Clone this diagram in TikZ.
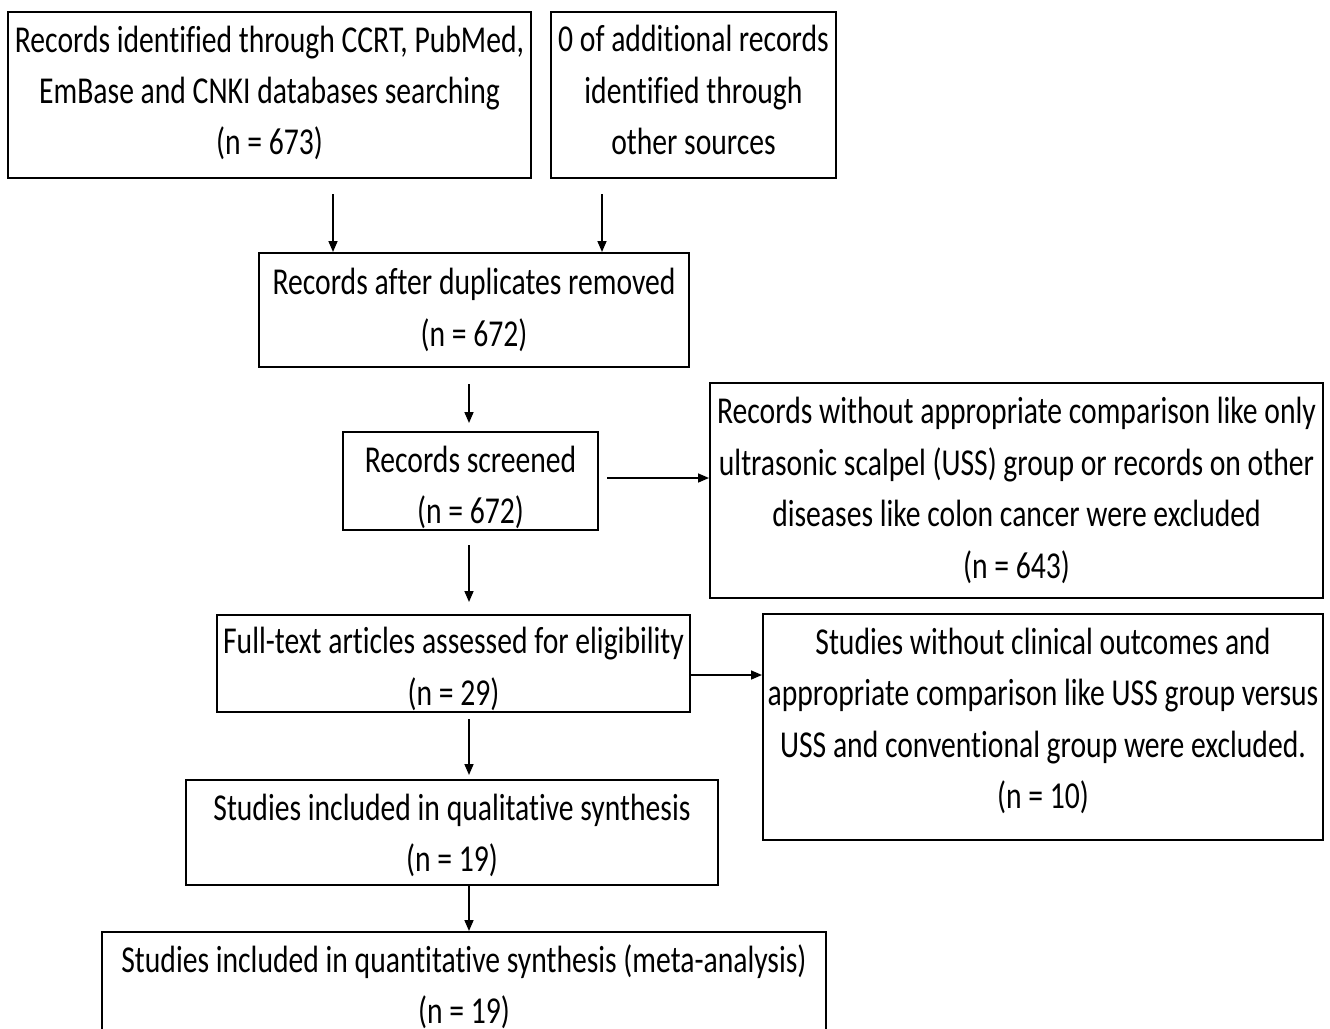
\documentclass[tikz,border=0pt]{standalone}
\usepackage{fontspec}
\setmainfont{Carlito}[Ligatures=NoCommon]
\usetikzlibrary{arrows.meta}
\newcommand{\sq}[1]{\scalebox{0.78}[1]{#1}}
\tikzset{
  box/.style={draw,line width=1pt,inner sep=0pt},
  txt/.style={inner sep=0pt,align=center,font=\fontsize{19}{25.7}\selectfont},
  sz/.style 2 args={minimum width=#1*0.5pt,minimum height=#2*0.5pt},
  arr/.style={line width=0.8pt,-{Triangle[length=5.5pt,width=4.5pt]}}
}
\begin{document}
\begin{tikzpicture}[x=0.5pt,y=-0.5pt]
\useasboundingbox (0,0) rectangle (1330,1029);
\clip (0,0) rectangle (1330,1029);
\node[box,sz={523}{166}] (A) at (269.5,95) {};
\node[txt] (At) at (269.5,93) {\sq{Records identified through CCRT, PubMed,}\\\sq{EmBase and CNKI databases searching}\\\sq{(n = 673)}};
\node[box,sz={285}{166}] (B) at (693.5,95) {};
\node[txt] (Bt) at (693.5,90) {\sq{0 of additional records}\\\sq{identified through}\\\sq{other sources}};
\node[box,sz={430}{114}] (C) at (474,310) {};
\node[txt] (Ct) at (474,310) {\sq{Records after duplicates removed}\\\sq{(n = 672)}};
\node[box,sz={255}{98}] (D) at (470.5,481) {};
\node[txt] (Dt) at (470.5,487.5) {\sq{Records screened}\\\sq{(n = 672)}};
\node[box,sz={613}{215}] (E) at (1016.5,490.5) {};
\node[txt] (Et) at (1016.5,490.5) {\sq{Records without appropriate comparison like only}\\\sq{ultrasonic scalpel (USS) group or records on other}\\\sq{diseases like colon cancer were excluded}\\\sq{(n = 643)}};
\node[box,sz={473}{97}] (F) at (453.5,663.5) {};
\node[txt] (Ft) at (453.5,669) {\sq{Full-text articles assessed for eligibility}\\\sq{(n = 29)}};
\node[box,sz={560}{226}] (G) at (1043,727) {};
\node[txt] (Gt) at (1043,721) {\sq{Studies without clinical outcomes and}\\\sq{appropriate comparison like USS group versus}\\\sq{USS and conventional group were excluded.}\\\sq{(n = 10)}};
\node[box,sz={532}{105}] (H) at (452,832.5) {};
\node[txt] (Ht) at (452,835.5) {\sq{Studies included in qualitative synthesis}\\\sq{(n = 19)}};
\node[box,sz={724}{109}] (I) at (464,986.5) {};
\node[txt] (It) at (464,987) {\sq{Studies included in quantitative synthesis (meta-analysis)}\\\sq{(n = 19)}};
\coordinate (xa) at (333,0);
\coordinate (xb) at (602,0);
\coordinate (xm) at (469,0);
\coordinate (yd) at (0,478);
\coordinate (yf) at (0,675);
\draw[arr,shorten <=7.5pt] (A.south -| xa) -- (C.north -| xa);
\draw[arr,shorten <=7.5pt] (B.south -| xb) -- (C.north -| xb);
\draw[arr,shorten <=8pt,shorten >=4pt] (C.south -| xm) -- (D.north -| xm);
\draw[arr,shorten <=4pt] (D.east |- yd) -- (E.west |- yd);
\draw[arr,shorten <=7pt,shorten >=6pt] (D.south -| xm) -- (F.north -| xm);
\draw[arr] (F.east |- yf) -- (G.west |- yf);
\draw[arr,shorten <=3pt,shorten >=2pt] (F.south -| xm) -- (H.north -| xm);
\draw[arr] (H.south -| xm) -- (I.north -| xm);
\end{tikzpicture}
\end{document}
